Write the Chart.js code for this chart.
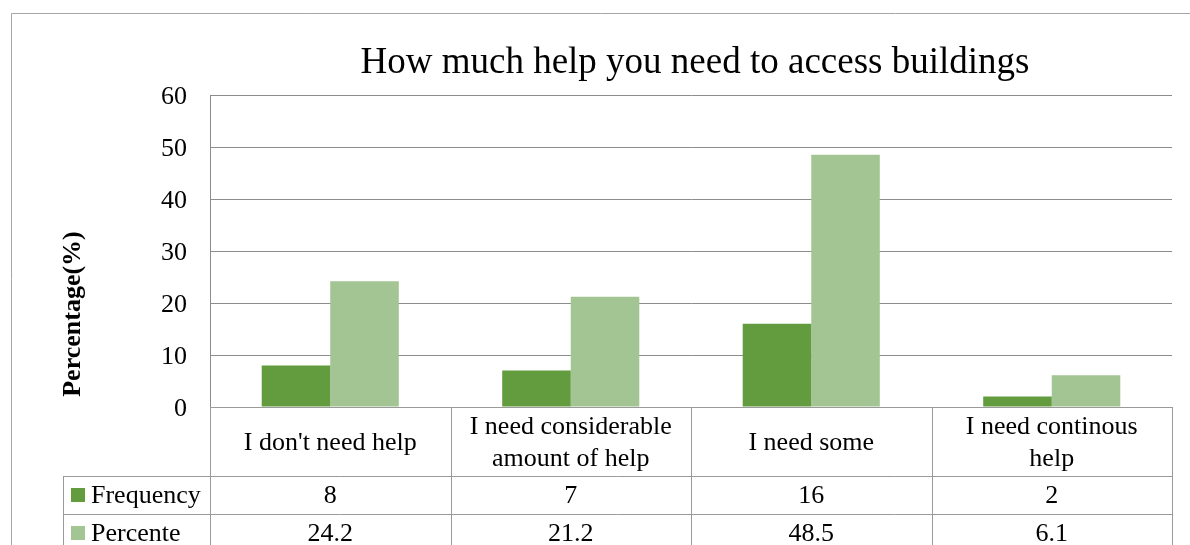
<!DOCTYPE html>
<html>
<head>
<meta charset="utf-8">
<script src="https://cdn.jsdelivr.net/npm/chart.js@4/dist/chart.umd.min.js"></script>
<style>
  html, body { margin: 0; padding: 0; background: #fff; }
  #wrap { width: 1190px; height: 545px; }
</style>
</head>
<body>
<div id="wrap"><canvas id="helpChart" width="1190" height="545"></canvas></div>
<script>
// Chart data
const categories = [
    ["I don't need help"],
    ["I need considerable", "amount of help"],
    ["I need some"],
    ["I need continous", "help"]
];
const frequency = [8, 7, 16, 2];
const percente = [24.2, 21.2, 48.5, 6.1];
const frequencyLabels = ['8', '7', '16', '2'];
const percenteLabels = ['24.2', '21.2', '48.5', '6.1'];
const yTicks = [0, 10, 20, 30, 40, 50, 60];

const FONT = '"Liberation Serif", "Times New Roman", serif';
const GRID = '#8c8c8c';
const TABLE_LINE = '#9a9a9a';

// Title, axis title, data table and outer frame (Excel-like)
const tablePlugin = {
    id: 'dataTable',
    beforeDraw(chart) {
        const c = chart.ctx;
        c.save();
        c.fillStyle = '#fff';
        c.fillRect(0, 0, chart.width, chart.height);
        c.restore();
    },
    afterDraw(chart) {
        const c = chart.ctx;
        const area = chart.chartArea;
        const ds = chart.data.datasets;
        const colW = (area.right - area.left) / categories.length;
        const rowCat = [area.bottom, area.bottom + 69];
        const rowFreq = [rowCat[1], rowCat[1] + 38];
        const rowPct = [rowFreq[1], rowFreq[1] + 38];
        const legendLeft = 63;

        c.save();
        // outer frame
        c.strokeStyle = '#a6a6a6';
        c.lineWidth = 1;
        c.beginPath();
        c.moveTo(11.5, chart.height);
        c.lineTo(11.5, 13.5);
        c.lineTo(chart.width, 13.5);
        c.stroke();

        // title
        c.fillStyle = '#000';
        c.font = '37px ' + FONT;
        c.textAlign = 'center';
        c.textBaseline = 'middle';
        c.fillText('How much help you need to access buildings', (area.left + area.right) / 2 + 4, 63);

        // y axis title
        c.save();
        c.translate(73, 314);
        c.rotate(-Math.PI / 2);
        c.font = 'bold 26px ' + FONT;
        c.fillText('Percentage(%)', 0, 0);
        c.restore();

        // table lines
        c.strokeStyle = TABLE_LINE;
        c.beginPath();
        [rowCat[0]].forEach(y => { c.moveTo(area.left, y + 0.5); c.lineTo(area.right, y + 0.5); });
        [rowFreq[0], rowPct[0], rowPct[1]].forEach(y => {
            c.moveTo(legendLeft, y + 0.5); c.lineTo(area.right, y + 0.5);
        });
        for (let i = 0; i <= categories.length; i++) {
            const x = Math.round(area.left + i * colW) + 0.5;
            c.moveTo(x, rowCat[0]); c.lineTo(x, chart.height);
        }
        c.moveTo(legendLeft + 0.5, rowFreq[0]); c.lineTo(legendLeft + 0.5, chart.height);
        c.stroke();

        // category labels and values
        c.font = '26px ' + FONT;
        c.textAlign = 'center';
        categories.forEach((lines, i) => {
            const cx = chart.scales.x.getPixelForValue(i);
            const mid = (rowCat[0] + rowCat[1]) / 2 + 2;
            const lh = 32;
            lines.forEach((t, k) => {
                c.fillText(t, cx, mid + (k - (lines.length - 1) / 2) * lh);
            });
            c.fillText(frequencyLabels[i], cx, (rowFreq[0] + rowFreq[1]) / 2 + 1);
            c.fillText(percenteLabels[i], cx, (rowPct[0] + rowPct[1]) / 2 + 1);
        });

        // legend keys
        c.textAlign = 'left';
        [[rowFreq, 0], [rowPct, 1]].forEach(([row, d]) => {
            const mid = (row[0] + row[1]) / 2;
            c.fillStyle = ds[d].backgroundColor;
            c.fillRect(71, Math.round(mid - 7), 14, 14);
            c.fillStyle = '#000';
            c.fillText(ds[d].label, 91, mid + 1);
        });
        c.restore();
    }
};

const ctx = document.getElementById('helpChart').getContext('2d');
const chart = new Chart(ctx, {
    type: 'bar',
    data: {
        labels: categories,
        datasets: [
            { label: 'Frequency', data: frequency, backgroundColor: '#639b3f' },
            { label: 'Percente', data: percente, backgroundColor: '#a3c593' }
        ]
    },
    options: {
        responsive: false,
        animation: false,
        layout: { padding: { top: 95, right: 18, bottom: 138, left: 0 } },
        datasets: { bar: { categoryPercentage: 0.57, barPercentage: 1.0 } },
        plugins: {
            legend: { display: false },
            title: { display: false },
            tooltip: { enabled: false }
        },
        scales: {
            x: { display: false },
            y: {
                min: 0,
                max: 60,
                afterBuildTicks: scale => { scale.ticks = yTicks.map(v => ({ value: v })); },
                afterFit: scale => { scale.width = 210; },
                ticks: { color: '#000', font: { family: FONT, size: 26 }, padding: 23, labelOffset: 2 },
                grid: { color: GRID, drawTicks: false },
                border: { color: GRID }
            }
        }
    },
    plugins: [tablePlugin]
});
</script>
</body>
</html>
